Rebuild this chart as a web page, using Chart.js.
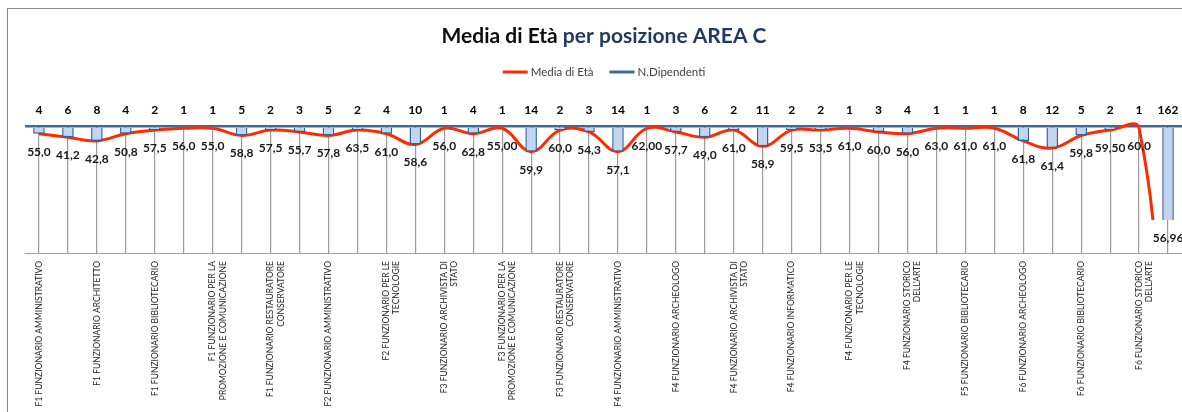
<!DOCTYPE html>
<html lang="it">
<head>
<meta charset="utf-8">
<title>Media di Età per posizione AREA C</title>
<script src="https://cdn.jsdelivr.net/npm/chart.js@4.4.1/dist/chart.umd.min.js"></script>
<style>
  html, body { margin: 0; padding: 0; background: #fff; overflow: hidden; }
  #grafico { display: block; }
</style>
</head>
<body>
<canvas id="grafico" width="1208" height="412"></canvas>
<script>
// --- Dati ---
const posizioni = [
    'F1 FUNZIONARIO AMMINISTRATIVO', 'F1 FUNZIONARIO ARCHEOLOGO',
    'F1 FUNZIONARIO ARCHITETTO', 'F1 FUNZIONARIO ARCHIVISTA DI STATO',
    'F1 FUNZIONARIO BIBLIOTECARIO', 'F1 FUNZIONARIO INFORMATICO',
    'F1 FUNZIONARIO PER LA PROMOZIONE E COMUNICAZIONE', 'F1 FUNZIONARIO PER LE TECNOLOGIE',
    'F1 FUNZIONARIO RESTAURATORE CONSERVATORE', "F1 FUNZIONARIO STORICO DELL'ARTE",
    'F2 FUNZIONARIO AMMINISTRATIVO', 'F2 FUNZIONARIO ARCHIVISTA DI STATO',
    'F2 FUNZIONARIO PER LE TECNOLOGIE', 'F3 FUNZIONARIO AMMINISTRATIVO',
    'F3 FUNZIONARIO ARCHIVISTA DI STATO', 'F3 FUNZIONARIO BIBLIOTECARIO',
    'F3 FUNZIONARIO PER LA PROMOZIONE E COMUNICAZIONE', 'F3 FUNZIONARIO PER LE TECNOLOGIE',
    'F3 FUNZIONARIO RESTAURATORE CONSERVATORE', "F3 FUNZIONARIO STORICO DELL'ARTE",
    'F4 FUNZIONARIO AMMINISTRATIVO', 'F4 FUNZIONARIO ANTROPOLOGO',
    'F4 FUNZIONARIO ARCHEOLOGO', 'F4 FUNZIONARIO ARCHITETTO',
    'F4 FUNZIONARIO ARCHIVISTA DI STATO', 'F4 FUNZIONARIO BIBLIOTECARIO',
    'F4 FUNZIONARIO INFORMATICO', 'F4 FUNZIONARIO PER LA PROMOZIONE E COMUNICAZIONE',
    'F4 FUNZIONARIO PER LE TECNOLOGIE', 'F4 FUNZIONARIO RESTAURATORE CONSERVATORE',
    "F4 FUNZIONARIO STORICO DELL'ARTE", 'F5 FUNZIONARIO ARCHITETTO',
    'F5 FUNZIONARIO BIBLIOTECARIO', "F5 FUNZIONARIO STORICO DELL'ARTE",
    'F6 FUNZIONARIO ARCHEOLOGO', 'F6 FUNZIONARIO ARCHITETTO',
    'F6 FUNZIONARIO BIBLIOTECARIO', 'F6 FUNZIONARIO RESTAURATORE CONSERVATORE',
    "F6 FUNZIONARIO STORICO DELL'ARTE", 'Totale complessivo'
];
const dipendenti = [4, 6, 8, 4, 2, 1, 1, 5, 2, 3, 5, 2, 4, 10, 1, 4, 1, 14, 2, 3,
                    14, 1, 3, 6, 2, 11, 2, 2, 1, 3, 4, 1, 1, 1, 8, 12, 5, 2, 1, 162];
const mediaEta = [55.0, 41.2, 42.8, 50.8, 57.5, 56.0, 55.0, 58.8, 57.5, 55.7,
                  57.8, 63.5, 61.0, 58.6, 56.0, 62.8, 55.00, 59.9, 60.0, 54.3,
                  57.1, 62.00, 57.7, 49.0, 61.0, 58.9, 59.5, 53.5, 61.0, 60.0,
                  56.0, 63.0, 61.0, 61.0, 61.8, 61.4, 59.8, 59.50, 60.0, 56.96];
const decimaliEta = [1, 1, 1, 1, 1, 1, 1, 1, 1, 1, 1, 1, 1, 1, 1, 1, 2, 1, 1, 1,
                     1, 2, 1, 1, 1, 1, 1, 1, 1, 1, 1, 1, 1, 1, 1, 1, 1, 2, 1, 2];

const ROSSO = '#ff2a00';
const BLU = '#3e6aa0';

// etichette lunghe spezzate su due righe
function aCapo(testo, max) {
    const righe = [];
    let riga = '';
    testo.split(' ').forEach(p => {
        const prova = riga ? riga + ' ' + p : p;
        if (prova.length > max && riga) { righe.push(riga); riga = p; }
        else riga = prova;
    });
    righe.push(riga);
    return righe.length > 1 ? righe : righe[0];
}

function formatoEta(i) {
    return mediaEta[i].toFixed(decimaliEta[i]).replace('.', ',');
}

// titolo bicolore, legenda, cornice ed etichette dei valori
const decorazioni = {
    id: 'decorazioni',
    beforeDraw(chart) {
        const ctx = chart.ctx;
        ctx.save();
        ctx.fillStyle = '#fff';
        ctx.fillRect(0, 0, chart.width, chart.height);
        ctx.strokeStyle = '#8c8c8c';
        ctx.lineWidth = 1;
        ctx.strokeRect(7.5, 8.5, chart.width - 15, chart.height + 20);
        ctx.restore();
    },
    afterDraw(chart) {
        const ctx = chart.ctx;
        const area = chart.chartArea;
        const cx = chart.width / 2;
        ctx.save();

        // titolo
        ctx.font = 'bold 21px Lato';
        ctx.textBaseline = 'middle';
        ctx.textAlign = 'left';
        const t1 = 'Media di Età', t2 = ' per posizione AREA C';
        const w1 = ctx.measureText(t1).width, w2 = ctx.measureText(t2).width;
        let x = cx - (w1 + w2) / 2;
        ctx.fillStyle = '#0d0d0d';
        ctx.fillText(t1, x, 36);
        ctx.fillStyle = '#1f3a5c';
        ctx.fillText(t2, x + w1, 36);

        // legenda
        ctx.font = '11.5px Lato';
        const voci = chart.data.datasets.map(ds => ({ testo: ds.label, colore: ds.coloreLegenda }));
        const lung = 25, gap = 3, spazio = 16;
        let tot = 0;
        voci.forEach((v, i) => { tot += lung + gap + ctx.measureText(v.testo).width + (i ? spazio : 0); });
        x = cx - tot / 2;
        voci.forEach(v => {
            ctx.strokeStyle = v.colore;
            ctx.lineWidth = 3;
            ctx.beginPath();
            ctx.moveTo(x, 72);
            ctx.lineTo(x + lung, 72);
            ctx.stroke();
            ctx.fillStyle = '#404040';
            ctx.fillText(v.testo, x + lung + gap, 72);
            x += lung + gap + ctx.measureText(v.testo).width + spazio;
        });

        // linea di base dell'asse delle categorie
        const sx = chart.scales.x;
        ctx.strokeStyle = '#a0a0a0';
        ctx.lineWidth = 1;
        ctx.beginPath();
        ctx.moveTo(area.left, Math.round(sx.top + 33) + 0.5);
        ctx.lineTo(area.right, Math.round(sx.top + 33) + 0.5);
        ctx.stroke();

        // numero dipendenti sopra le barre
        ctx.font = 'bold 12px Lato';
        ctx.textAlign = 'center';
        ctx.fillStyle = '#000';
        chart.getDatasetMeta(1).data.forEach((el, i) => {
            ctx.fillText(String(dipendenti[i]), el.x, area.top - 16);
        });

        // media di età sotto i punti della linea
        ctx.fillStyle = '#1a1a1a';
        chart.getDatasetMeta(0).data.forEach((el, i) => {
            ctx.fillText(formatoEta(i), el.x, Math.min(el.y, area.bottom) + 18);
        });
        ctx.restore();
    }
};

Chart.defaults.font.family = 'Lato';

new Chart(document.getElementById('grafico'), {
    data: {
        labels: posizioni,
        datasets: [{
            type: 'line',
            label: 'Media di Età',
            data: dipendenti,
            coloreLegenda: ROSSO,
            borderColor: ROSSO,
            backgroundColor: ROSSO,
            borderWidth: 3,
            pointRadius: 0,
            tension: 0.4,
            order: 1,
            clip: { left: 10, top: 10, right: 10, bottom: 0 }
        }, {
            type: 'bar',
            label: 'N.Dipendenti',
            data: dipendenti,
            coloreLegenda: BLU,
            backgroundColor: '#c2d6ef',
            borderColor: '#35619a',
            borderWidth: 1.5,
            categoryPercentage: 1,
            barPercentage: 0.4,
            order: 0,
            clip: { left: 10, top: 2, right: 10, bottom: 0 }
        }]
    },
    options: {
        responsive: false,
        animation: false,
        devicePixelRatio: 1,
        layout: { padding: { top: 126.5, left: 24.5, right: 25.5, bottom: 0 } },
        elements: { line: { capBezierPoints: false } },
        plugins: {
            legend: { display: false },
            tooltip: { enabled: false }
        },
        scales: {
            x: {
                type: 'category',
                offset: true,
                afterFit: s => { s.height = 192; },
                grid: { offset: false, color: '#9c9c9c', lineWidth: 1.2, tickLength: 33 },
                border: { display: false },
                ticks: {
                    autoSkip: false,
                    maxRotation: 90,
                    minRotation: 90,
                    padding: 8,
                    color: '#262626',
                    font: { size: 8.5 },
                    callback: (v, i) => (i % 2 === 0 ? aCapo(posizioni[i], 29) : '')
                }
            },
            y: {
                type: 'linear',
                reverse: true,
                min: 0,
                max: 52,
                ticks: { display: false },
                border: { display: false },
                grid: {
                    drawTicks: false,
                    color: c => (c.tick.value === 0 ? BLU : 'rgba(0,0,0,0)'),
                    lineWidth: c => (c.tick.value === 0 ? 2.5 : 0)
                }
            }
        }
    },
    plugins: [decorazioni]
});
</script>
</body>
</html>
